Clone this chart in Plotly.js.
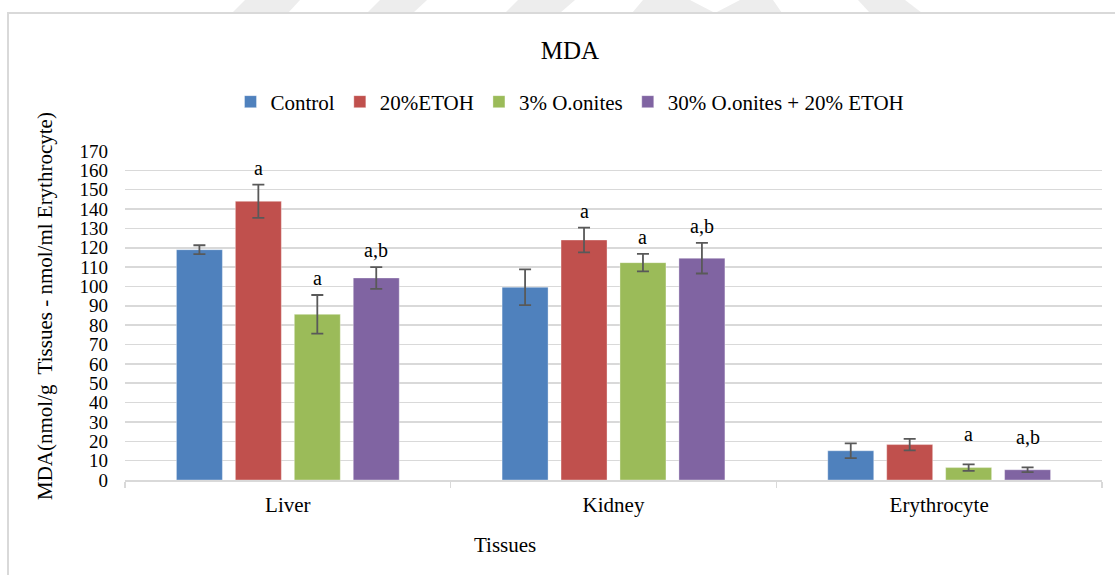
<!DOCTYPE html>
<html>
<head>
<meta charset="utf-8">
<script src="https://cdn.plot.ly/plotly-3.0.1.min.js"></script>
<style>
  html, body { margin: 0; padding: 0; background: #ffffff; }
  #chart { width: 1115px; height: 575px; }
</style>
</head>
<body>
<div id="chart"></div>
<script>
// MDA levels per tissue and treatment group (mean ± error)
const tissues = ['Liver', 'Kidney', 'Erythrocyte'];
const seriesNames = ['Control', '20%ETOH', '3% O.onites', '30% O.onites + 20% ETOH'];

const controlMean = [119, 99.6, 15.1];
const etohMean = [144, 124, 18.3];
const onitesMean = [85.6, 112.3, 6.4];
const comboMean = [104.4, 114.6, 5.3];

const controlErr = [2.3, 9.2, 3.8];
const etohErr = [8.6, 6.4, 3.0];
const onitesErr = [10, 4.5, 1.7];
const comboErr = [5.6, 7.9, 1.2];

// significance letters shown above bars ('' = none)
const controlSig = ['', '', ''];
const etohSig = ['a', 'a', ''];
const onitesSig = ['a', 'a', 'a'];
const comboSig = ['a,b', 'a,b', 'a,b'];

const yTicks = [0, 10, 20, 30, 40, 50, 60, 70, 80, 90, 100, 110, 120, 130, 140, 150, 160, 170];

const colors = ['#4f81bd', '#c0504d', '#9bbb59', '#8064a2'];
const means = [controlMean, etohMean, onitesMean, comboMean];
const errs = [controlErr, etohErr, onitesErr, comboErr];
const sigs = [controlSig, etohSig, onitesSig, comboSig];

const serif = 'Liberation Serif';
const bargap = 0.276;

const traces = seriesNames.map((name, i) => ({
  type: 'bar',
  name: name,
  x: tissues,
  y: means[i],
  marker: { color: colors[i], line: { color: 'rgba(255,255,255,0.35)', width: 1 } },
  error_y: { type: 'data', array: errs[i], visible: true, color: '#595959', thickness: 1.8, width: 6 },
  hoverinfo: 'x+y+name'
}));

// letters placed above each error bar, using the grouped-bar slot offsets
const slot = (1 - bargap) / seriesNames.length;
const annotations = [];
sigs.forEach((row, i) => {
  row.forEach((txt, j) => {
    if (!txt) return;
    const top = means[i][j] + errs[i][j];
    annotations.push({
      xref: 'x', yref: 'y',
      x: j + (i - (seriesNames.length - 1) / 2) * slot,
      y: top,
      text: txt,
      showarrow: false,
      yanchor: 'middle',
      yshift: top < 30 ? 30 : 17,
      font: { family: serif, size: 20, color: '#000000' }
    });
  });
});

// plot-area pixel helpers for the frame and faint backdrop decorations
const L = 125, R = 1102, T = 151, B = 480;
const px = x => (x - L) / (R - L);
const py = y => (B - y) / (B - T);
const poly = pts => 'M' + pts.map(p => px(p[0]) + ',' + py(p[1])).join('L') + 'Z';

const shapes = [
  { type: 'path', xref: 'paper', yref: 'paper', layer: 'below', line: { width: 0 }, fillcolor: '#ededed',
    path: poly([[245, 0], [300, 0], [288, 13], [232, 13]]) },
  { type: 'path', xref: 'paper', yref: 'paper', layer: 'below', line: { width: 0 }, fillcolor: '#ededed',
    path: poly([[380, 0], [427, 0], [413, 13], [367, 13]]) },
  { type: 'path', xref: 'paper', yref: 'paper', layer: 'below', line: { width: 0 }, fillcolor: '#ededed',
    path: poly([[518, 0], [575, 0], [560, 13], [505, 13]]) },
  { type: 'path', xref: 'paper', yref: 'paper', layer: 'below', line: { width: 0 }, fillcolor: '#ededed',
    path: poly([[643, 0], [690, 0], [715, 13], [740, 0], [773, 0], [782, 13], [632, 13]]) },
  { type: 'path', xref: 'paper', yref: 'paper', layer: 'below', line: { width: 0 }, fillcolor: '#ededed',
    path: poly([[858, 0], [905, 0], [922, 13], [870, 13]]) },
  { type: 'rect', xref: 'paper', yref: 'paper', layer: 'below',
    x0: px(8), x1: px(1130), y0: py(13), y1: py(590),
    line: { color: '#d9d9d9', width: 2 }, fillcolor: '#ffffff' }
];

annotations.push({
  xref: 'paper', yref: 'paper', x: px(45), y: py(306),
  text: 'MDA(nmol/g  Tissues - nmol/ml Erythrocyte)', textangle: -90,
  showarrow: false, xanchor: 'center', yanchor: 'middle',
  font: { family: serif, size: 21, color: '#000000' }
});
annotations.push({
  xref: 'paper', yref: 'paper', x: px(505), y: py(545),
  text: 'Tissues', showarrow: false, xanchor: 'center', yanchor: 'middle',
  font: { family: serif, size: 21, color: '#000000' }
});

const layout = {
  width: 1115,
  height: 575,
  margin: { l: L, r: 1115 - R, t: T, b: 575 - B },
  paper_bgcolor: '#ffffff',
  plot_bgcolor: 'rgba(0,0,0,0)',
  font: { family: serif, size: 20, color: '#000000' },
  title: {
    text: 'MDA',
    x: 570 / 1115, xref: 'container', xanchor: 'center',
    y: 1 - 50 / 575, yref: 'container', yanchor: 'middle',
    font: { family: serif, size: 25, color: '#000000' }
  },
  barmode: 'group',
  bargap: bargap,
  bargroupgap: 0.22,
  showlegend: true,
  legend: {
    orientation: 'h',
    x: px(570), xanchor: 'center',
    y: py(102), yanchor: 'middle',
    font: { family: serif, size: 21, color: '#000000' },
    itemwidth: 30,
    traceorder: 'normal'
  },
  xaxis: {
    type: 'category',
    showgrid: false,
    showline: true,
    linecolor: '#d9d9d9',
    linewidth: 1.5,
    ticks: 'outside',
    tickson: 'boundaries',
    ticklen: 6,
    tickcolor: '#d9d9d9',
    tickwidth: 1.5,
    ticklabelstandoff: 5,
    tickfont: { family: serif, size: 21, color: '#000000' },
    fixedrange: true
  },
  yaxis: {
    range: [0, 170],
    tickmode: 'array',
    tickvals: yTicks,
    ticktext: yTicks.map(String),
    showgrid: true,
    gridcolor: '#d9d9d9',
    gridwidth: 1.5,
    zeroline: false,
    showline: false,
    ticks: '',
    ticklabelstandoff: 16,
    tickfont: { family: serif, size: 19, color: '#000000' },
    fixedrange: true
  },
  shapes: shapes,
  annotations: annotations
};

Plotly.newPlot('chart', traces, layout, { displayModeBar: false, staticPlot: true });
</script>
</body>
</html>
